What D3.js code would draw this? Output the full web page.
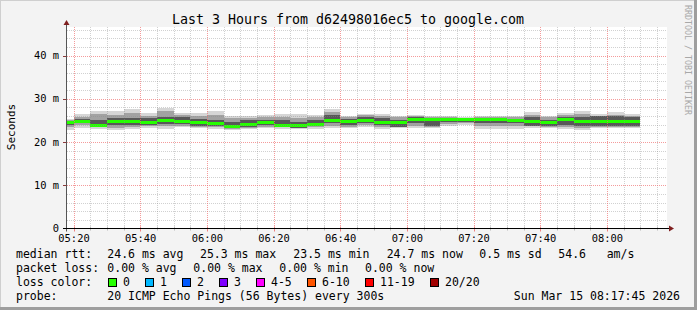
<!DOCTYPE html>
<html>
<head>
<meta charset="utf-8">
<script src="https://cdn.jsdelivr.net/npm/d3@7"></script>
<style>
html,body{margin:0;padding:0;background:#f3f3f3;}
svg{display:block;}
text{font-family:"DejaVu Sans Mono",monospace;fill:#000;}
</style>
</head>
<body>
<svg id="chart" width="697" height="310"></svg>
<script>
// ---- data (milliseconds) ----
const barEnd = ["05:20","05:25","05:30","05:35","05:40","05:45","05:50","05:55",
  "06:00","06:05","06:10","06:15","06:20","06:25","06:30","06:35","06:40","06:45","06:50","06:55",
  "07:00","07:05","07:10","07:15","07:20","07:25","07:30","07:35","07:40","07:45","07:50","07:55",
  "08:00","08:05","08:10"];
const median = [24.6,24.8,23.9,24.8,24.8,24.6,25.0,24.8,24.6,24.2,23.5,24.0,24.4,23.9,23.8,24.1,25.0,24.7,25.0,24.6,
  24.4,25.1,25.3,25.2,25.1,25.2,25.2,25.0,24.8,24.4,25.2,24.7,24.8,24.8,24.7];
const smokeHi1 = [25.4,26.4,27.1,27.2,27.6,26.6,27.9,26.6,26.6,27.1,26.1,26.1,26.2,26.5,26.5,26.2,27.6,26.1,26.5,26.5,
  26.1,26.3,26.0,26.0,25.8,26.1,26.0,26.0,26.9,26.1,26.6,27.1,26.5,26.9,26.5];
const smokeLo1 = [22.8,23.3,23.0,22.8,23.1,23.2,23.1,23.4,23.2,23.1,22.7,22.9,23.2,23.1,22.9,23.1,23.2,23.2,23.5,23.1,
  23.2,23.2,23.2,23.8,24.0,23.1,23.1,23.1,23.2,23.2,22.9,22.7,23.2,23.2,23.2];
const smokeHi2 = [25.2,25.8,26.5,26.3,26.8,26.1,27.1,26.2,26.0,26.3,25.5,25.6,25.7,25.8,25.6,25.7,27.0,25.9,26.2,26.0,
  25.8,26.0,25.7,25.7,25.5,25.8,25.7,25.7,26.2,25.8,26.2,26.5,26.1,26.3,26.1];
const smokeLo2 = [23.4,23.9,23.4,23.3,23.5,23.6,23.6,23.8,23.5,23.4,23.0,23.2,23.5,23.4,23.2,23.4,23.6,23.5,23.9,23.4,
  23.5,23.7,23.4,24.2,24.3,23.8,23.8,23.8,23.6,23.5,23.4,23.2,23.5,23.5,23.5];
const smokeHi3 = [24.9,25.3,25.0,25.5,25.6,25.6,25.9,25.9,25.4,25.2,24.6,25.0,25.2,25.0,24.6,25.0,26.2,25.4,25.9,25.6,
  25.0,25.8,25.4,25.4,25.3,25.5,25.4,25.3,25.8,25.2,25.7,25.8,26.0,26.0,25.8];
const smokeLo3 = [24.0,24.3,23.5,24.0,24.0,24.0,24.2,24.2,23.8,23.7,23.2,23.5,23.9,23.5,23.3,23.6,24.3,23.9,24.3,23.9,
  23.5,24.5,23.6,24.6,24.6,24.4,24.5,24.5,23.8,23.8,24.0,23.6,23.7,23.8,23.8];
const yTicks = [0,10,20,30,40];
const title = "Last 3 Hours from d62498016ec5 to google.com";
const yLabel = "Seconds";
const statsRtt = [["median rtt:",16],["24.6 ms avg",107.3],["25.3 ms max",200],["23.5 ms min",293.3],["24.7 ms now",386.7],["0.5 ms sd",479.3],["54.6",558.3],["am/s",606.7]];
const statsLoss = [["packet loss:",16],["0.00 % avg",107.3],["0.00 % max",193.3],["0.00 % min",279.3],["0.00 % now",365]];
const lossLabels = ["0","1","2","3","4-5","6-10","11-19","20/20"];
const lossColors = ["#26ff00","#00b8ff","#0059ff","#7e00ff","#ff00ff","#ff5500","#ff0000","#a10000"];
const lossBoxX = [108.5,145.5,182.5,219.5,256.5,307.5,365.5,430.5];
const probeText = "20 ICMP Echo Pings (56 Bytes) every 300s";
const stampText = "Sun Mar 15 08:17:45 2026";
const creditText = "RRDTOOL / TOBI OETIKER";

// ---- scales ----
const t0 = new Date(2026,2,15,5,17,45), t1 = new Date(2026,2,15,8,17,45);
const L = 66, R = 666, B = 228.5, T = 27;
const x = d3.scaleTime().domain([t0,t1]).range([L,R]);
const y = d3.scaleLinear().domain([0,46.6]).range([B,T]);
const parseT = s => { const [h,m] = s.split(":").map(Number); return new Date(2026,2,15,h,m,0); };

const svg = d3.select("#chart");
// background + frame
svg.append("rect").attr("width",697).attr("height",310).attr("fill","#f3f3f3");
svg.append("line").attr("x1",0).attr("x2",697).attr("y1",0.5).attr("y2",0.5).attr("stroke","#cfcfcf");
svg.append("line").attr("x1",0.5).attr("x2",0.5).attr("y1",0).attr("y2",310).attr("stroke","#cfcfcf");
svg.append("rect").attr("x",0).attr("y",307).attr("width",697).attr("height",3).attr("fill","#9e9e9e");
svg.append("rect").attr("x",694).attr("y",0).attr("width",3).attr("height",310).attr("fill","#9e9e9e");
// canvas
svg.append("rect").attr("x",L).attr("y",T).attr("width",R-L+1).attr("height",B-T).attr("fill","#ffffff");

// data
const bars = barEnd.map((s,i)=>{
  const e = parseT(s), st = new Date(e.getTime()-300000);
  return {x0: Math.max(L, x(st)), x1: x(e), med: median[i],
    b1:[smokeLo1[i],smokeHi1[i]], b2:[smokeLo2[i],smokeHi2[i]], b3:[smokeLo3[i],smokeHi3[i]]};
});
const g = svg.append("g").attr("shape-rendering","crispEdges");
[["b1","#d6d6d6"],["b2","#a2a2a2"],["b3","#585858"]].forEach(([k,c])=>{
  g.selectAll("rect."+k).data(bars).enter().append("rect").attr("class",k)
   .attr("x",d=>d.x0).attr("width",d=>d.x1-d.x0)
   .attr("y",d=>y(d[k][1])).attr("height",d=>y(d[k][0])-y(d[k][1])).attr("fill",c);
});
g.selectAll("rect.med").data(bars).enter().append("rect").attr("class","med")
  .attr("x",d=>d.x0).attr("width",d=>d.x1-d.x0)
  .attr("y",d=>y(d.med)-1.5).attr("height",3).attr("fill",lossColors[0]);

// grid (on top, semi transparent like rrdtool)
const grid = svg.append("g");
const minorY = d3.range(2,46.6,2).filter(v=>v%10!==0);
minorY.forEach(v=>{ const yy=Math.round(y(v))+0.5;
  grid.append("line").attr("x1",L+1).attr("x2",R).attr("y1",yy).attr("y2",yy)
   .attr("stroke","#8c8c8c").attr("stroke-opacity",0.4).attr("stroke-dasharray","1,1"); });
const minorX = x.ticks(d3.timeMinute.every(5)).filter(d=>d.getMinutes()%20!==0);
minorX.forEach(d=>{ const xx=Math.round(x(d))+0.5;
  grid.append("line").attr("x1",xx).attr("x2",xx).attr("y1",T).attr("y2",B)
   .attr("stroke","#8c8c8c").attr("stroke-opacity",0.4).attr("stroke-dasharray","1,1");
  grid.append("line").attr("x1",xx).attr("x2",xx).attr("y1",B-2).attr("y2",B+2).attr("stroke","#bbbbbb"); });
const majorX = x.ticks(d3.timeMinute.every(20));
yTicks.filter(v=>v>0).forEach(v=>{ const yy=Math.round(y(v))+0.5;
  grid.append("line").attr("x1",L+1).attr("x2",R).attr("y1",yy).attr("y2",yy)
   .attr("stroke","#f07070").attr("stroke-opacity",0.7).attr("stroke-dasharray","1,1");
  grid.append("line").attr("x1",L-3).attr("x2",L).attr("y1",yy).attr("y2",yy).attr("stroke","#8b3a3a"); });
majorX.forEach(d=>{ const xx=Math.round(x(d))+0.5;
  grid.append("line").attr("x1",xx).attr("x2",xx).attr("y1",T).attr("y2",B)
   .attr("stroke","#f07070").attr("stroke-opacity",0.7).attr("stroke-dasharray","1,1");
  grid.append("line").attr("x1",xx).attr("x2",xx).attr("y1",B-2).attr("y2",B+3).attr("stroke","#f08080"); });

// axes
svg.append("line").attr("x1",L+0.5).attr("x2",L+0.5).attr("y1",B+3).attr("y2",T-5).attr("stroke","#555");
svg.append("line").attr("x1",L-3).attr("x2",R+6).attr("y1",B).attr("y2",B).attr("stroke","#000");
svg.append("path").attr("d",`M${L-2.5},${T-2}L${L+3.5},${T-2}L${L+0.5},${T-7}Z`).attr("fill","#7f1f1f");
svg.append("path").attr("d",`M${R+3},${B-3}L${R+3},${B+3}L${R+8},${B}Z`).attr("fill","#7f1f1f");

// tick labels
svg.selectAll("text.yt").data(yTicks).enter().append("text").attr("class","yt")
  .attr("x",59).attr("y",v=>y(v)+3.6).attr("text-anchor","end").attr("font-size","10.4px")
  .text(v=>v===0?"0":v+" m");
svg.selectAll("text.xt").data(majorX).enter().append("text").attr("class","xt")
  .attr("x",d=>x(d)+0.5).attr("y",241.5).attr("text-anchor","middle").attr("font-size","10.4px")
  .text(d3.timeFormat("%H:%M"));

// title + labels
svg.append("text").attr("x",348).attr("y",24).attr("text-anchor","middle").attr("font-size","13.3px").text(title);
svg.append("text").attr("transform","translate(15,127) rotate(-90)").attr("text-anchor","middle")
  .attr("font-size","11px").text(yLabel);
svg.append("text").attr("transform","translate(685,5) rotate(90)").attr("text-anchor","start")
  .attr("font-size","8.3px").attr("textLength",110).attr("lengthAdjust","spacing").style("fill","#a8a8a8").text(creditText);

// legend
const fs = "11.5px";
statsRtt.forEach(([t,xx])=>svg.append("text").attr("x",xx).attr("y",258).attr("font-size",fs).attr("xml:space","preserve").text(t));
statsLoss.forEach(([t,xx])=>svg.append("text").attr("x",xx).attr("y",272).attr("font-size",fs).attr("xml:space","preserve").text(t));
svg.append("text").attr("x",16).attr("y",286).attr("font-size",fs).text("loss color:");
lossLabels.forEach((t,i)=>{
  svg.append("rect").attr("x",lossBoxX[i]).attr("y",278.5).attr("width",8).attr("height",8)
    .attr("fill",lossColors[i]).attr("stroke","#000").attr("stroke-width",1);
  svg.append("text").attr("x",lossBoxX[i]+14.5).attr("y",286).attr("font-size",fs).text(t);
});
svg.append("text").attr("x",16).attr("y",300).attr("font-size",fs).text("probe:");
svg.append("text").attr("x",107.3).attr("y",300).attr("font-size",fs).text(probeText);
svg.append("text").attr("x",680).attr("y",300).attr("text-anchor","end").attr("font-size",fs).text(stampText);
</script>
</body>
</html>
